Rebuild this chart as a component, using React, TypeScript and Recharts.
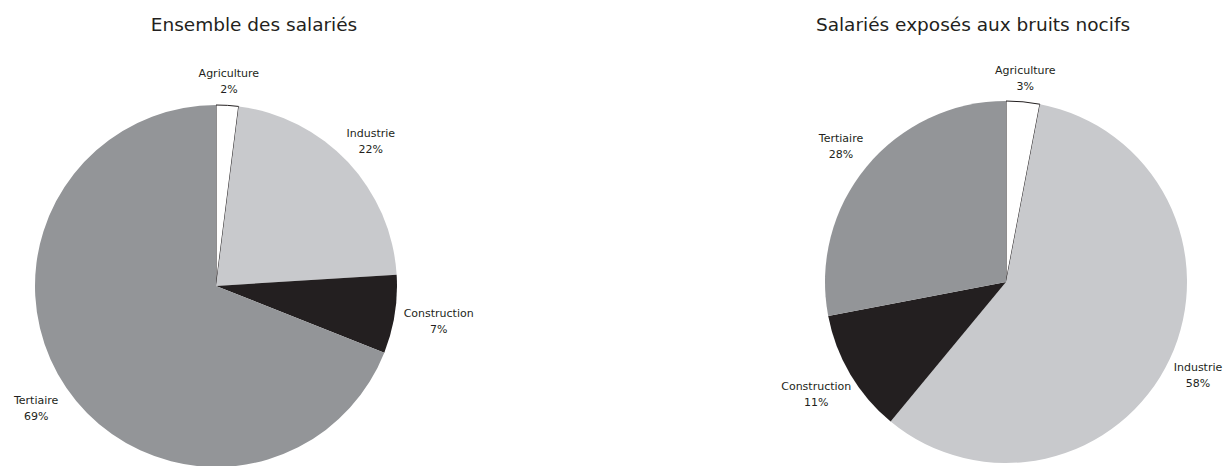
import React from 'react';
import { PieChart, Pie, Cell } from 'recharts';

const sectors = ['Agriculture', 'Industrie', 'Construction', 'Tertiaire'];
const allEmployees = [2, 22, 7, 69];
const noiseExposed = [3, 58, 11, 28];
const sectorColors = ['#ffffff', '#c8c9cc', '#231f20', '#939598'];

const WIDTH = 1227;
const HEIGHT = 466;
const FONT = '"DejaVu Sans", sans-serif';
const RAD = Math.PI / 180;

const leftData = sectors.map((name, i) => ({ name, value: allEmployees[i] }));
const rightData = sectors.map((name, i) => ({ name, value: noiseExposed[i] }));

// étiquette placée à l'extérieur : le bord de la boîte reste à distance fixe de l'arc
const renderLabel = (props: any) => {
  const { cx, cy, midAngle, outerRadius, name, value } = props;
  const cos = Math.cos(-midAngle * RAD);
  const sin = Math.sin(-midAngle * RAD);
  const halfW = name.length * 3;
  const halfH = 16;
  const reach = Math.min(
    Math.abs(cos) > 1e-6 ? halfW / Math.abs(cos) : Infinity,
    Math.abs(sin) > 1e-6 ? halfH / Math.abs(sin) : Infinity
  );
  const r = outerRadius + 8 + reach;
  // ne pas sortir du cadre
  const x = Math.min(cx + r * cos, WIDTH - halfW - 2);
  const y = cy + r * sin;
  return (
    <text
      x={x}
      y={y}
      textAnchor="middle"
      fill="#231f20"
      fontFamily={FONT}
      fontSize={11}
    >
      <tspan x={x} dy={-4}>{name}</tspan>
      <tspan x={x} dy={16}>{`${value}%`}</tspan>
    </text>
  );
};

const titleStyle: React.CSSProperties = {
  position: 'absolute',
  top: 14,
  width: 500,
  textAlign: 'center',
  fontFamily: FONT,
  fontSize: 18.5,
  color: '#231f20',
  whiteSpace: 'nowrap',
};

export default function App() {
  return (
    <div style={{ position: 'absolute', left: 0, top: 0, width: WIDTH, height: HEIGHT, background: '#fff' }}>
      <div style={{ position: 'absolute', left: 0, top: 0 }}>
        <PieChart width={WIDTH} height={HEIGHT} margin={{ top: 0, right: 0, bottom: 0, left: 0 }}>
          <Pie
            data={leftData}
            dataKey="value"
            nameKey="name"
            cx={216}
            cy={286}
            outerRadius={181}
            startAngle={90}
            endAngle={-270}
            label={renderLabel}
            labelLine={false}
            stroke="none"
            isAnimationActive={false}
          >
            {leftData.map((entry, i) => (
              <Cell
                key={`l-${i}`}
                fill={sectorColors[i]}
                stroke={i === 0 ? '#231f20' : 'none'}
                strokeWidth={i === 0 ? 1 : 0}
              />
            ))}
          </Pie>
          <Pie
            data={rightData}
            dataKey="value"
            nameKey="name"
            cx={1006}
            cy={282}
            outerRadius={181}
            startAngle={90}
            endAngle={-270}
            label={renderLabel}
            labelLine={false}
            stroke="none"
            isAnimationActive={false}
          >
            {rightData.map((entry, i) => (
              <Cell
                key={`r-${i}`}
                fill={sectorColors[i]}
                stroke={i === 0 ? '#231f20' : 'none'}
                strokeWidth={i === 0 ? 1 : 0}
              />
            ))}
          </Pie>
        </PieChart>
      </div>
      <div style={{ ...titleStyle, left: 254 - 250 }}>Ensemble des salariés</div>
      <div style={{ ...titleStyle, left: 973 - 250 }}>Salariés exposés aux bruits nocifs</div>
    </div>
  );
}
